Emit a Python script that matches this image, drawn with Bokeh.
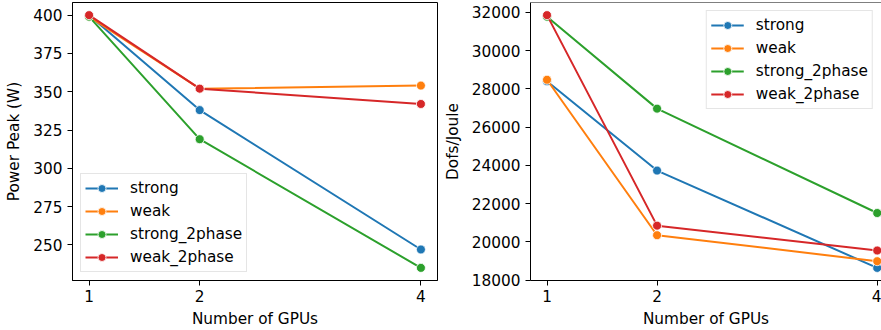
from bokeh.plotting import figure
from bokeh.models import Range1d, FixedTicker, Legend, LegendItem, Span, BasicTickFormatter
from bokeh.layouts import row
from bokeh.embed import file_html
from bokeh.resources import INLINE

gpus = [1, 2, 4]
series_names = ["strong", "weak", "strong_2phase", "weak_2phase"]
colors = ["#1f77b4", "#ff7f0e", "#2ca02c", "#d62728"]

power_strong = [400, 338, 247]
power_weak = [399, 352, 354]
power_strong_2phase = [399, 319, 235]
power_weak_2phase = [400, 352, 342]

dofs_strong = [28400, 23730, 18640]
dofs_weak = [28480, 20350, 18990]
dofs_strong_2phase = [31780, 26970, 21510]
dofs_weak_2phase = [31860, 20850, 19550]

power_ticks = [250, 275, 300, 325, 350, 375, 400]
dofs_ticks = [18000, 20000, 22000, 24000, 26000, 28000, 30000, 32000]
x_ticks = [1, 2, 4]

FONT = "DejaVu Sans"
FS = "15.3px"


def make_fig(width, border_left, border_right, x_end, y_start, y_end, ylabel, yticks,
             series, legend_loc, legend_margin, outline):
    p = figure(width=width, height=330, output_backend="svg", toolbar_location=None,
               x_range=Range1d(0.85, x_end), y_range=Range1d(y_start, y_end),
               min_border_left=border_left, min_border_right=border_right,
               min_border_top=2, min_border_bottom=49)
    p.xgrid.visible = False
    p.ygrid.visible = False
    p.background_fill_color = "white"
    if outline:
        p.outline_line_color = "black"
        p.outline_line_alpha = 1
        p.outline_line_width = 1
    else:
        p.outline_line_color = None
        p.add_layout(Span(location=y_end, dimension="width", line_color="black", line_width=1))

    for ax in (p.xaxis[0], p.yaxis[0]):
        ax.minor_tick_line_color = None
        ax.major_tick_in = 0
        ax.major_tick_out = 5
        ax.major_tick_line_color = "black"
        ax.axis_line_color = "black"
        ax.axis_line_width = 1
        ax.major_label_text_font = FONT
        ax.major_label_text_font_size = FS
        ax.major_label_text_color = "black"
        ax.axis_label_text_font = FONT
        ax.axis_label_text_font_size = FS
        ax.axis_label_text_font_style = "normal"
        ax.axis_label_text_color = "black"
    p.xaxis.ticker = FixedTicker(ticks=x_ticks)
    p.yaxis.ticker = FixedTicker(ticks=yticks)
    p.yaxis.formatter = BasicTickFormatter(use_scientific=False)
    p.xaxis.axis_label = "Number of GPUs"
    p.yaxis.axis_label = ylabel
    p.xaxis.major_label_standoff = 4
    p.yaxis.major_label_standoff = 5
    p.xaxis.axis_label_standoff = 5
    p.yaxis.axis_label_standoff = 7

    items = []
    for name, vals, c in zip(series_names, series, colors):
        lr = p.line(gpus, vals, line_color=c, line_width=2)
        sr = p.scatter(gpus, vals, size=9, fill_color=c, line_color="white", line_width=0.8)
        items.append(LegendItem(label=name, renderers=[lr, sr]))
    legend = Legend(items=items, location=legend_loc, margin=legend_margin, padding=4,
                    spacing=3, glyph_width=33, glyph_height=20, label_height=20,
                    label_standoff=12, label_text_font=FONT, label_text_font_size=FS,
                    label_text_color="black",
                    border_line_color="#cccccc", border_line_width=1,
                    background_fill_color="white", background_fill_alpha=0.8)
    p.add_layout(legend)
    return p


left = make_fig(440, 72, 3, 4.15, 226.75, 408.25, "Power Peak (W)", power_ticks,
                [power_strong, power_weak, power_strong_2phase, power_weak_2phase],
                "bottom_left", 8, True)
right = make_fig(441, 88, 0, 4.039, 17981, 32521, "Dofs/Joule", dofs_ticks,
                 [dofs_strong, dofs_weak, dofs_strong_2phase, dofs_weak_2phase],
                 "top_right", 8, False)

layout = row(left, right)
open("out.html", "w").write(file_html(layout, INLINE))
